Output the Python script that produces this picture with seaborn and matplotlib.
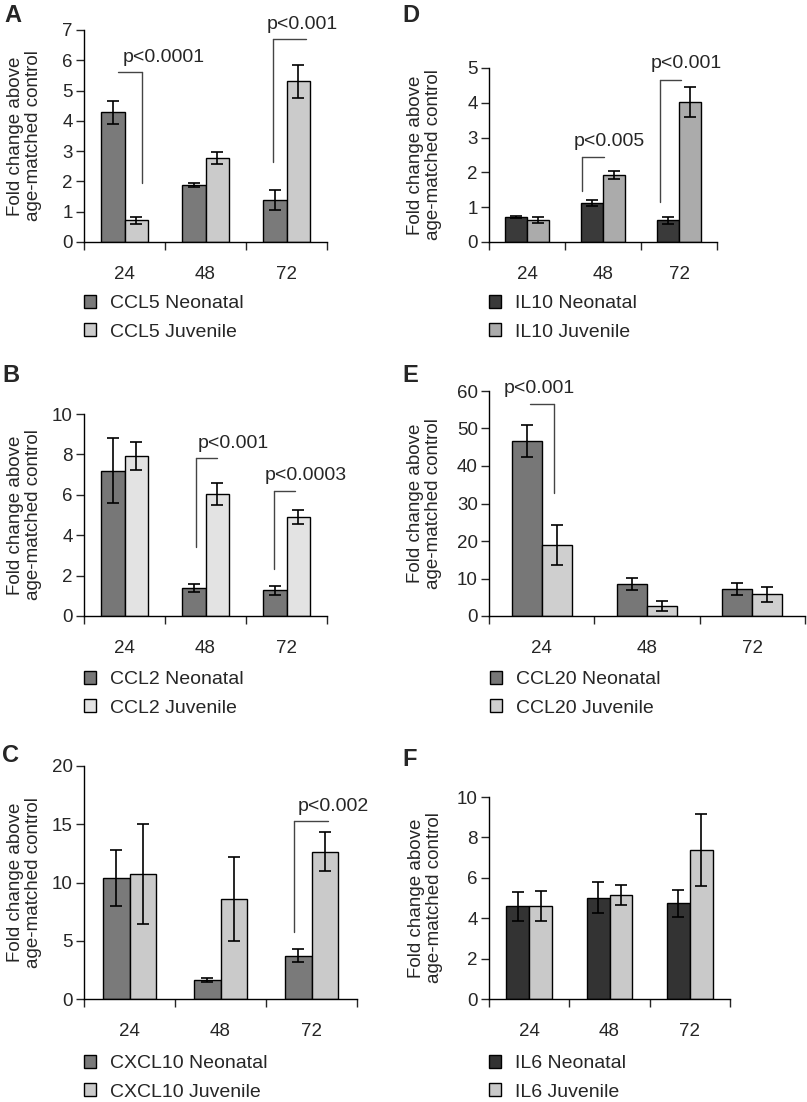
import matplotlib
matplotlib.use("Agg")
import matplotlib.pyplot as plt
import matplotlib.transforms as mtransforms
import seaborn as sns
import pandas as pd

# --- data ---
times = ["24", "48", "72"]

ccl5_neo = [4.28, 1.88, 1.38]
ccl5_neo_err = [0.38, 0.08, 0.33]
ccl5_juv = [0.72, 2.78, 5.30]
ccl5_juv_err = [0.12, 0.20, 0.55]

ccl2_neo = [7.20, 1.40, 1.27]
ccl2_neo_err = [1.60, 0.20, 0.22]
ccl2_juv = [7.92, 6.05, 4.90]
ccl2_juv_err = [0.70, 0.55, 0.37]

cxcl10_neo = [10.35, 1.65, 3.70]
cxcl10_neo_err = [2.40, 0.15, 0.55]
cxcl10_juv = [10.75, 8.60, 12.65]
cxcl10_juv_err = [4.30, 3.60, 1.65]

il10_neo = [0.71, 1.12, 0.62]
il10_neo_err = [0.03, 0.08, 0.09]
il10_juv = [0.64, 1.93, 4.02]
il10_juv_err = [0.08, 0.12, 0.43]

ccl20_neo = [46.7, 8.6, 7.2]
ccl20_neo_err = [4.3, 1.6, 1.6]
ccl20_juv = [19.0, 2.6, 5.8]
ccl20_juv_err = [5.3, 1.3, 2.0]

il6_neo = [4.58, 5.02, 4.73]
il6_neo_err = [0.73, 0.75, 0.65]
il6_juv = [4.60, 5.15, 7.38]
il6_juv_err = [0.73, 0.48, 1.78]

# --- figure setup ---
sns.set_style("ticks")
plt.rcParams['font.family'] = ['Liberation Sans', 'DejaVu Sans']
FS = 13.5

W, H = 807, 1102
fig = plt.figure(figsize=(W / 100, H / 100), dpi=100)


def px_axes(left, right, top, bottom):
    return fig.add_axes([left / W, 1 - bottom / H, (right - left) / W, (bottom - top) / H])


def draw_panel(box, gene, neo, neo_err, juv, juv_err, colors, yticks, letter,
               letter_xy, ylab_x, legend_xy, brackets):
    ax = px_axes(*box)
    df = pd.DataFrame({
        "time": times * 2,
        "value": neo + juv,
        "group": [f"{gene} Neonatal"] * 3 + [f"{gene} Juvenile"] * 3,
    })
    sns.barplot(data=df, x="time", y="value", hue="group", palette=colors,
                errorbar=None, width=0.572, gap=0, edgecolor="black",
                linewidth=1.0, legend=False, ax=ax)

    # error bars, placed on the seaborn bars
    for cont, errs in zip(ax.containers, [neo_err, juv_err]):
        for bar, e in zip(cont.patches, errs):
            ax.errorbar(bar.get_x() + bar.get_width() / 2, bar.get_height(), yerr=e,
                        fmt="none", ecolor="black", elinewidth=1.2, capsize=4,
                        capthick=1.2, zorder=5)

    ax.set_xlim(-0.5, 2.5)
    ax.set_ylim(yticks[0], yticks[-1])
    ax.set_yticks(yticks)
    ax.set_xlabel("")
    ax.set_ylabel("Fold change above\nage-matched control", fontsize=FS, linespacing=1.1)
    ax.yaxis.set_label_coords(ylab_x / W, 0.5,
                              transform=mtransforms.blended_transform_factory(fig.transFigure, ax.transAxes))
    ax.set_xticks([-0.5, 0.5, 1.5, 2.5], minor=True)
    ax.tick_params(axis="x", which="major", length=0, pad=17, labelsize=FS)
    ax.tick_params(axis="x", which="minor", length=6, width=1.0, direction="out")
    ax.tick_params(axis="y", length=6, width=1.0, pad=2, labelsize=FS)
    sns.despine(ax=ax)
    for sp in ["left", "bottom"]:
        ax.spines[sp].set_linewidth(1.0)
        ax.spines[sp].set_color("black")

    # significance brackets
    for g, x0, x1, ytop, ydrop, side, text, tx, ty in brackets:
        xd = g + (x0 if side == "left" else x1)
        ax.plot([g + x0, g + x1], [ytop, ytop], color="#444444", lw=1.0, clip_on=False)
        ax.plot([xd, xd], [ytop, ydrop], color="#444444", lw=1.0, clip_on=False)
        ax.text(g + tx, ty, text, fontsize=FS + 0.5, ha="left", va="center", clip_on=False)

    # legend
    handles = [ax.containers[0].patches[0], ax.containers[1].patches[0]]
    ax.legend(handles, [f"{gene} Neonatal", f"{gene} Juvenile"], loc="upper left",
              bbox_to_anchor=(legend_xy[0] / W, 1 - legend_xy[1] / H),
              bbox_transform=fig.transFigure, frameon=False, fontsize=FS + 0.5,
              handlelength=0.62, handleheight=0.62, handletextpad=0.7,
              labelspacing=0.58, borderpad=0, borderaxespad=0)

    fig.text(letter_xy[0] / W, 1 - letter_xy[1] / H, letter, fontsize=17,
             fontweight="bold", ha="left", va="top")
    return ax


# A - CCL5
draw_panel((84, 327, 30, 242), "CCL5", ccl5_neo, ccl5_neo_err, ccl5_juv, ccl5_juv_err,
           ["#7a7a7a", "#cbcbcb"], list(range(0, 8)), "A", (4, 4), 42, (84, 295),
           [(0, -0.08, 0.215, 5.62, 1.94, "right", "p<0.0001", -0.025, 6.08),
            (2, -0.17, 0.24, 6.69, 2.63, "left", "p<0.001", -0.25, 7.18)])

# D - IL10
draw_panel((489, 717, 68, 242), "IL10", il10_neo, il10_neo_err, il10_juv, il10_juv_err,
           ["#3a3a3a", "#ababab"], list(range(0, 6)), "D", (402, 4), 442, (489, 295),
           [(1, -0.28, 0.01, 2.44, 1.46, "left", "p<0.005", -0.39, 2.88),
            (2, -0.25, 0.03, 4.66, 1.14, "left", "p<0.001", -0.37, 5.14)])

# B - CCL2
draw_panel((84, 327, 414, 616), "CCL2", ccl2_neo, ccl2_neo_err, ccl2_juv, ccl2_juv_err,
           ["#777777", "#e3e3e3"], list(range(0, 11, 2)), "B", (2, 364), 42, (84, 671),
           [(1, -0.12, 0.14, 7.8, 3.44, "left", "p<0.001", -0.095, 8.56),
            (2, -0.16, 0.11, 6.21, 2.33, "left", "p<0.0003", -0.27, 6.96)])

# E - CCL20
draw_panel((489, 805, 391, 616), "CCL20", ccl20_neo, ccl20_neo_err, ccl20_juv, ccl20_juv_err,
           ["#777777", "#cfcfcf"], list(range(0, 61, 10)), "E", (402, 364), 442, (490, 671),
           [(0, -0.11, 0.12, 56.6, 32.8, "right", "p<0.001", -0.365, 60.6)])

# C - CXCL10
draw_panel((84, 357, 766, 999), "CXCL10", cxcl10_neo, cxcl10_neo_err, cxcl10_juv, cxcl10_juv_err,
           ["#7a7a7a", "#cacaca"], list(range(0, 21, 5)), "C", (2, 744), 42, (84, 1055),
           [(2, -0.19, 0.18, 15.26, 5.79, "left", "p<0.002", -0.15, 16.5)])

# F - IL6
draw_panel((489, 730, 797, 999), "IL6", il6_neo, il6_neo_err, il6_juv, il6_juv_err,
           ["#333333", "#c9c9c9"], list(range(0, 11, 2)), "F", (402, 748), 443, (489, 1055),
           [])

fig.savefig("out.png", dpi=100, facecolor="white")
